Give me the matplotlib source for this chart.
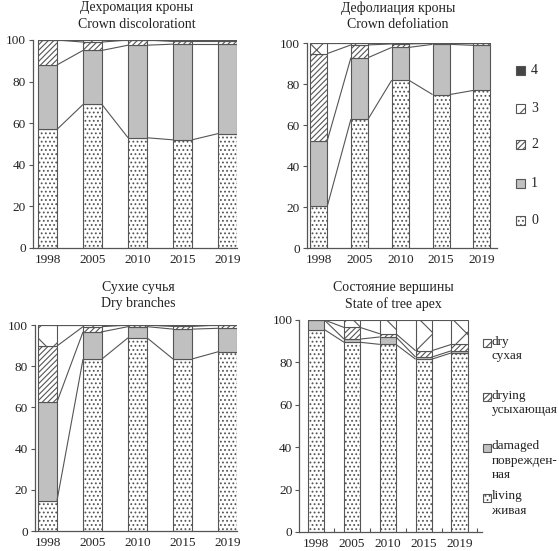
import numpy as np
import matplotlib
matplotlib.use("Agg")
import matplotlib.pyplot as plt
from matplotlib.patches import Rectangle

plt.rcParams['font.family'] = ['Liberation Serif', 'DejaVu Serif']
plt.rcParams['hatch.linewidth'] = 0.8
plt.rcParams['hatch.color'] = '#444444'

years = ['1998', '2005', '2010', '2015', '2019']

# Crown discoloration (classes 0..4)
disc_c0 = [57, 69, 53, 52, 55]
disc_c1 = [31, 26, 44.5, 46, 43]
disc_c2 = [12, 4, 2.5, 1.3, 1.3]
disc_c3 = [0, 1, 0, 0.7, 0.7]
disc_c4 = [0, 0, 0, 0, 0]

# Crown defoliation (classes 0..4)
defol_c0 = [20.5, 63, 82, 75, 77]
defol_c1 = [32, 30, 16, 24.5, 22]
defol_c2 = [42.5, 6.2, 1.7, 0.5, 1]
defol_c3 = [5, 0.8, 0.3, 0, 0]
defol_c4 = [0, 0, 0, 0, 0]

# Dry branches (classes 0..4)
dry_c0 = [14.6, 83.5, 93.8, 83.5, 87]
dry_c1 = [48, 13.2, 5.4, 14.5, 11.4]
dry_c2 = [27.2, 2.5, 0.8, 1.3, 1.6]
dry_c3 = [10.2, 0.8, 0, 0.7, 0]
dry_c4 = [0, 0, 0, 0, 0]

# State of tree apex
apex_living = [95.5, 89.5, 88.5, 81.5, 84.5]
apex_damaged = [4.5, 1.5, 3.5, 1, 1]
apex_drying = [0, 5.5, 1.5, 3, 3]
apex_dry = [0, 3.5, 6.5, 14.5, 11.5]

titles = [("Дехромация кроны", "Crown discolorationt"),
          ("Дефолиация кроны", "Crown defoliation"),
          ("Сухие сучья", "Dry branches"),
          ("Состояние вершины", "State of tree apex")]

class_labels = ['0', '1', '2', '3', '4']
apex_labels = ['living\nживая', 'damaged\nповрежден-\nная',
               'drying\nусыхающая', 'dry\nсухая']

EDGE = '#555555'
styles = [dict(facecolor='white', hatch='....'),
          dict(facecolor='#c0c0c0', hatch=None),
          dict(facecolor='white', hatch='//////'),
          dict(facecolor='white', hatch='x'),
          dict(facecolor='#454545', hatch=None)]

W, H = 559, 551
fig = plt.figure(figsize=(W / 100, H / 100), dpi=100)


def px_axes(left, right, top, bottom):
    return fig.add_axes([left / W, 1 - bottom / H, (right - left) / W, (bottom - top) / H])


def draw_panel(ax, series, sty, width, xlim, title, title_xy, ticks_between=False):
    x = np.arange(len(years))
    bottom = np.zeros(len(years))
    tops = []
    for vals, st in zip(series, sty):
        vals = np.array(vals, dtype=float)
        ax.bar(x, vals, width, bottom=bottom, facecolor=st['facecolor'],
               hatch=st['hatch'], edgecolor=EDGE, linewidth=0.8, zorder=2)
        bottom = bottom + vals
        tops.append(bottom.copy())
    for t in tops:
        for i in range(len(years) - 1):
            ax.plot([x[i] + width / 2, x[i + 1] - width / 2], [t[i], t[i + 1]],
                    color=EDGE, lw=0.8, zorder=3, solid_capstyle='butt')
    ax.set_xlim(*xlim)
    ax.set_ylim(0, 100)
    ax.set_xticks(x)
    ax.set_xticklabels(years)
    ax.set_yticks([0, 20, 40, 60, 80, 100])
    for s in ['top', 'right']:
        ax.spines[s].set_visible(False)
    for s in ['left', 'bottom']:
        ax.spines[s].set_color(EDGE)
        ax.spines[s].set_linewidth(0.9)
    ax.tick_params(axis='x', length=0, labelsize=9.5, pad=4, colors='#222222')
    ax.tick_params(axis='y', length=3, width=0.8, color=EDGE, labelsize=9.5,
                   pad=2, labelcolor='#222222')
    if ticks_between:
        ax.set_xticks(np.arange(len(years)) + 0.5, minor=True)
        ax.tick_params(axis='x', which='minor', direction='in', length=3,
                       width=0.8, color=EDGE)
    fig.text(title_xy[0] / W, 1 - title_xy[1] / H, title[0], ha='center',
             va='center', fontsize=10, color='#222222')
    fig.text(title_xy[0] / W, 1 - (title_xy[1] + 16) / H, title[1], ha='center',
             va='center', fontsize=10, color='#222222')


ax1 = px_axes(33, 237, 40, 248)
draw_panel(ax1, [disc_c0, disc_c1, disc_c2, disc_c3, disc_c4], styles, 0.42,
           (-0.322, 4.211), titles[0], (137, 8))

ax2 = px_axes(306.7, 496.7, 43.3, 248.3)
draw_panel(ax2, [defol_c0, defol_c1, defol_c2, defol_c3, defol_c4], styles, 0.42,
           (-0.294, 4.363), titles[1], (398, 8))

ax3 = px_axes(35, 237, 325, 531)
draw_panel(ax3, [dry_c0, dry_c1, dry_c2, dry_c3, dry_c4], styles, 0.42,
           (-0.278, 4.211), titles[2], (138, 288))

ax4 = px_axes(299.3, 482, 320, 532)
draw_panel(ax4, [apex_living, apex_damaged, apex_drying, apex_dry],
           [styles[0], styles[1], styles[2], styles[3]], 0.45,
           (-0.475, 4.63), titles[3], (393, 288), ticks_between=True)

# Legend for classes (top right)
leg_y = [220, 183, 145, 108, 70]
for lab, st, yy in zip(class_labels, styles, leg_y):
    r = Rectangle(((516) / W, 1 - (yy + 4.5) / H), 9 / W, 9 / H,
                  transform=fig.transFigure, facecolor=st['facecolor'],
                  hatch=st['hatch'], edgecolor=EDGE, linewidth=0.8)
    fig.add_artist(r)
    fig.text(531 / W, 1 - yy / H, lab, ha='left', va='center', fontsize=10,
             color='#222222')

# Legend for apex (bottom right)
apex_leg_y = [498, 448, 397, 343]
for lab, st, yy in zip(apex_labels, styles[:4], apex_leg_y):
    r = Rectangle((482.5 / W, 1 - (yy + 4) / H), 8 / W, 8 / H,
                  transform=fig.transFigure, facecolor=st['facecolor'],
                  hatch=st['hatch'], edgecolor=EDGE, linewidth=0.8)
    fig.add_artist(r)
    fig.text(492 / W, 1 - (yy - 7.5) / H, lab, ha='left', va='top', fontsize=9.5,
             color='#222222', linespacing=1.25)

fig.savefig('out.png', dpi=100)
